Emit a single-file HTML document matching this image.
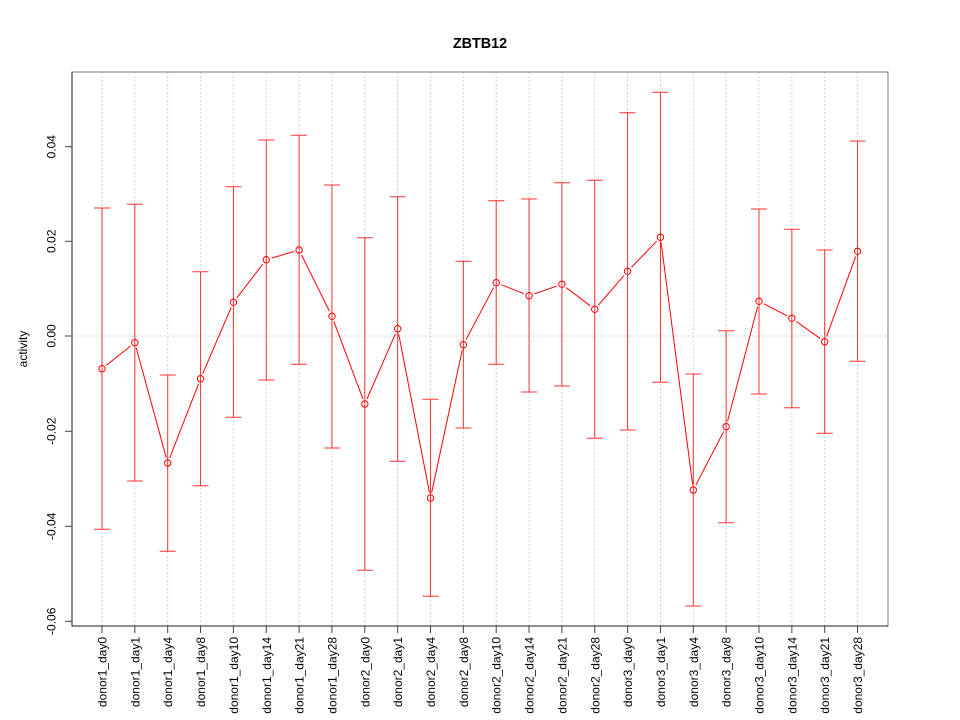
<!DOCTYPE html>
<html><head><meta charset="utf-8"><style>
html,body{margin:0;padding:0;background:#fff;}
svg{display:block;}
text{font-family:"Liberation Sans",Arial,sans-serif;fill:#000;}
</style></head><body>
<svg width="960" height="720" viewBox="0 0 960 720" xmlns="http://www.w3.org/2000/svg">
<defs>
<mask id="m" maskUnits="userSpaceOnUse" x="0" y="0" width="960" height="720">
<rect x="0" y="0" width="960" height="720" fill="#fff"/>
<g fill="#000">
<circle cx="102" cy="368.7" r="5.5"/><circle cx="134.85" cy="342.7" r="5.5"/><circle cx="167.7" cy="463" r="5.5"/><circle cx="200.55" cy="378.7" r="5.5"/><circle cx="233.4" cy="302.3" r="5.5"/><circle cx="266.25" cy="259.7" r="5.5"/><circle cx="299.1" cy="250" r="5.5"/><circle cx="331.95" cy="316.3" r="5.5"/><circle cx="364.8" cy="404" r="5.5"/><circle cx="397.65" cy="328.7" r="5.5"/><circle cx="430.5" cy="498" r="5.5"/><circle cx="463.35" cy="344.7" r="5.5"/><circle cx="496.2" cy="282.7" r="5.5"/><circle cx="529.05" cy="295.7" r="5.5"/><circle cx="561.9" cy="284.3" r="5.5"/><circle cx="594.75" cy="309.3" r="5.5"/><circle cx="627.6" cy="271.3" r="5.5"/><circle cx="660.45" cy="237.3" r="5.5"/><circle cx="693.3" cy="490" r="5.5"/><circle cx="726.15" cy="426.7" r="5.5"/><circle cx="759" cy="301.3" r="5.5"/><circle cx="791.85" cy="318.3" r="5.5"/><circle cx="824.7" cy="341.7" r="5.5"/><circle cx="857.55" cy="251.3" r="5.5"/>
</g>
</mask>
</defs>

<!-- grid -->
<g stroke="#d3d3d3" stroke-width="1" stroke-dasharray="2,2" fill="none">
<line x1="72" y1="336" x2="888" y2="336"/>
<line x1="102" y1="72" x2="102" y2="626"/><line x1="134.85" y1="72" x2="134.85" y2="626"/><line x1="167.7" y1="72" x2="167.7" y2="626"/><line x1="200.55" y1="72" x2="200.55" y2="626"/><line x1="233.4" y1="72" x2="233.4" y2="626"/><line x1="266.25" y1="72" x2="266.25" y2="626"/><line x1="299.1" y1="72" x2="299.1" y2="626"/><line x1="331.95" y1="72" x2="331.95" y2="626"/><line x1="364.8" y1="72" x2="364.8" y2="626"/><line x1="397.65" y1="72" x2="397.65" y2="626"/><line x1="430.5" y1="72" x2="430.5" y2="626"/><line x1="463.35" y1="72" x2="463.35" y2="626"/><line x1="496.2" y1="72" x2="496.2" y2="626"/><line x1="529.05" y1="72" x2="529.05" y2="626"/><line x1="561.9" y1="72" x2="561.9" y2="626"/><line x1="594.75" y1="72" x2="594.75" y2="626"/><line x1="627.6" y1="72" x2="627.6" y2="626"/><line x1="660.45" y1="72" x2="660.45" y2="626"/><line x1="693.3" y1="72" x2="693.3" y2="626"/><line x1="726.15" y1="72" x2="726.15" y2="626"/><line x1="759" y1="72" x2="759" y2="626"/><line x1="791.85" y1="72" x2="791.85" y2="626"/><line x1="824.7" y1="72" x2="824.7" y2="626"/><line x1="857.55" y1="72" x2="857.55" y2="626"/>
</g>

<!-- error bars -->
<g stroke="#ff3030" stroke-width="1" fill="none">
<path d="M102 208V529.3M94 208H110M94 529.3H110"/>
<path d="M134.85 204.3V481M126.85 204.3H142.85M126.85 481H142.85"/>
<path d="M167.7 375V551.3M159.7 375H175.7M159.7 551.3H175.7"/>
<path d="M200.55 271.7V485.7M192.55 271.7H208.55M192.55 485.7H208.55"/>
<path d="M233.4 186.7V417.3M225.4 186.7H241.4M225.4 417.3H241.4"/>
<path d="M266.25 140V380M258.25 140H274.25M258.25 380H274.25"/>
<path d="M299.1 135.3V364.3M291.1 135.3H307.1M291.1 364.3H307.1"/>
<path d="M331.95 185V448M323.95 185H339.95M323.95 448H339.95"/>
<path d="M364.8 237.7V570.3M356.8 237.7H372.8M356.8 570.3H372.8"/>
<path d="M397.65 196.7V461.3M389.65 196.7H405.65M389.65 461.3H405.65"/>
<path d="M430.5 399.3V596.3M422.5 399.3H438.5M422.5 596.3H438.5"/>
<path d="M463.35 261.3V428M455.35 261.3H471.35M455.35 428H471.35"/>
<path d="M496.2 200.7V364.3M488.2 200.7H504.2M488.2 364.3H504.2"/>
<path d="M529.05 199V392M521.05 199H537.05M521.05 392H537.05"/>
<path d="M561.9 182.7V386M553.9 182.7H569.9M553.9 386H569.9"/>
<path d="M594.75 180.3V438.3M586.75 180.3H602.75M586.75 438.3H602.75"/>
<path d="M627.6 112.7V430M619.6 112.7H635.6M619.6 430H635.6"/>
<path d="M660.45 92.3V382.3M652.45 92.3H668.45M652.45 382.3H668.45"/>
<path d="M693.3 374V606M685.3 374H701.3M685.3 606H701.3"/>
<path d="M726.15 330.7V522.7M718.15 330.7H734.15M718.15 522.7H734.15"/>
<path d="M759 209V394M751 209H767M751 394H767"/>
<path d="M791.85 229.3V407.7M783.85 229.3H799.85M783.85 407.7H799.85"/>
<path d="M824.7 250V433.3M816.7 250H832.7M816.7 433.3H832.7"/>
<path d="M857.55 141V361.3M849.55 141H865.55M849.55 361.3H865.55"/>
</g>

<!-- connecting line -->
<polyline mask="url(#m)" fill="none" stroke="#ff0000" stroke-width="1" points="102,368.7 134.85,342.7 167.7,463 200.55,378.7 233.4,302.3 266.25,259.7 299.1,250 331.95,316.3 364.8,404 397.65,328.7 430.5,498 463.35,344.7 496.2,282.7 529.05,295.7 561.9,284.3 594.75,309.3 627.6,271.3 660.45,237.3 693.3,490 726.15,426.7 759,301.3 791.85,318.3 824.7,341.7 857.55,251.3"/>

<!-- points -->
<g fill="none" stroke="#ff0000" stroke-width="1">
<circle cx="102" cy="368.7" r="3.2"/><circle cx="134.85" cy="342.7" r="3.2"/><circle cx="167.7" cy="463" r="3.2"/><circle cx="200.55" cy="378.7" r="3.2"/><circle cx="233.4" cy="302.3" r="3.2"/><circle cx="266.25" cy="259.7" r="3.2"/><circle cx="299.1" cy="250" r="3.2"/><circle cx="331.95" cy="316.3" r="3.2"/><circle cx="364.8" cy="404" r="3.2"/><circle cx="397.65" cy="328.7" r="3.2"/><circle cx="430.5" cy="498" r="3.2"/><circle cx="463.35" cy="344.7" r="3.2"/><circle cx="496.2" cy="282.7" r="3.2"/><circle cx="529.05" cy="295.7" r="3.2"/><circle cx="561.9" cy="284.3" r="3.2"/><circle cx="594.75" cy="309.3" r="3.2"/><circle cx="627.6" cy="271.3" r="3.2"/><circle cx="660.45" cy="237.3" r="3.2"/><circle cx="693.3" cy="490" r="3.2"/><circle cx="726.15" cy="426.7" r="3.2"/><circle cx="759" cy="301.3" r="3.2"/><circle cx="791.85" cy="318.3" r="3.2"/><circle cx="824.7" cy="341.7" r="3.2"/><circle cx="857.55" cy="251.3" r="3.2"/>
</g>

<!-- box -->
<rect x="72" y="72" width="816" height="554" fill="none" stroke="#777" stroke-width="1"/>
<line x1="72" y1="72" x2="72" y2="626" stroke="#444" stroke-width="1.2"/>
<line x1="72" y1="626" x2="888" y2="626" stroke="#222" stroke-width="1"/>

<!-- y ticks -->
<g stroke="#444" stroke-width="1">
<line x1="65" y1="146.7" x2="72" y2="146.7"/><line x1="65" y1="241.3" x2="72" y2="241.3"/><line x1="65" y1="336" x2="72" y2="336"/><line x1="65" y1="431.3" x2="72" y2="431.3"/><line x1="65" y1="526.3" x2="72" y2="526.3"/><line x1="65" y1="621.3" x2="72" y2="621.3"/>
</g>
<g font-size="12" text-anchor="middle">
<text transform="translate(55.5,146.7) rotate(-90)">0.04</text>
<text transform="translate(55.5,241.3) rotate(-90)">0.02</text>
<text transform="translate(55.5,336) rotate(-90)">0.00</text>
<text transform="translate(55.5,431.3) rotate(-90)">-0.02</text>
<text transform="translate(55.5,526.3) rotate(-90)">-0.04</text>
<text transform="translate(55.5,621.3) rotate(-90)">-0.06</text>
</g>

<!-- x ticks -->
<g stroke="#444" stroke-width="1">
<path d="M102 626V633M134.85 626V633M167.7 626V633M200.55 626V633M233.4 626V633M266.25 626V633M299.1 626V633M331.95 626V633M364.8 626V633M397.65 626V633M430.5 626V633M463.35 626V633M496.2 626V633M529.05 626V633M561.9 626V633M594.75 626V633M627.6 626V633M660.45 626V633M693.3 626V633M726.15 626V633M759 626V633M791.85 626V633M824.7 626V633M857.55 626V633"/>
</g>
<g font-size="12" text-anchor="end">
<text transform="translate(106.5,637) rotate(-90)">donor1_day0</text>
<text transform="translate(139.35,637) rotate(-90)">donor1_day1</text>
<text transform="translate(172.2,637) rotate(-90)">donor1_day4</text>
<text transform="translate(205.05,637) rotate(-90)">donor1_day8</text>
<text transform="translate(237.9,637) rotate(-90)">donor1_day10</text>
<text transform="translate(270.75,637) rotate(-90)">donor1_day14</text>
<text transform="translate(303.6,637) rotate(-90)">donor1_day21</text>
<text transform="translate(336.45,637) rotate(-90)">donor1_day28</text>
<text transform="translate(369.3,637) rotate(-90)">donor2_day0</text>
<text transform="translate(402.15,637) rotate(-90)">donor2_day1</text>
<text transform="translate(435,637) rotate(-90)">donor2_day4</text>
<text transform="translate(467.85,637) rotate(-90)">donor2_day8</text>
<text transform="translate(500.7,637) rotate(-90)">donor2_day10</text>
<text transform="translate(533.55,637) rotate(-90)">donor2_day14</text>
<text transform="translate(566.4,637) rotate(-90)">donor2_day21</text>
<text transform="translate(599.25,637) rotate(-90)">donor2_day28</text>
<text transform="translate(632.1,637) rotate(-90)">donor3_day0</text>
<text transform="translate(664.95,637) rotate(-90)">donor3_day1</text>
<text transform="translate(697.8,637) rotate(-90)">donor3_day4</text>
<text transform="translate(730.65,637) rotate(-90)">donor3_day8</text>
<text transform="translate(763.5,637) rotate(-90)">donor3_day10</text>
<text transform="translate(796.35,637) rotate(-90)">donor3_day14</text>
<text transform="translate(829.2,637) rotate(-90)">donor3_day21</text>
<text transform="translate(862.05,637) rotate(-90)">donor3_day28</text>
</g>

<!-- axis label -->
<text font-size="12" text-anchor="middle" transform="translate(27,349) rotate(-90)">activity</text>

<!-- title -->
<text x="480" y="48" font-size="14.4" font-weight="bold" text-anchor="middle">ZBTB12</text>
</svg>
</body></html>
